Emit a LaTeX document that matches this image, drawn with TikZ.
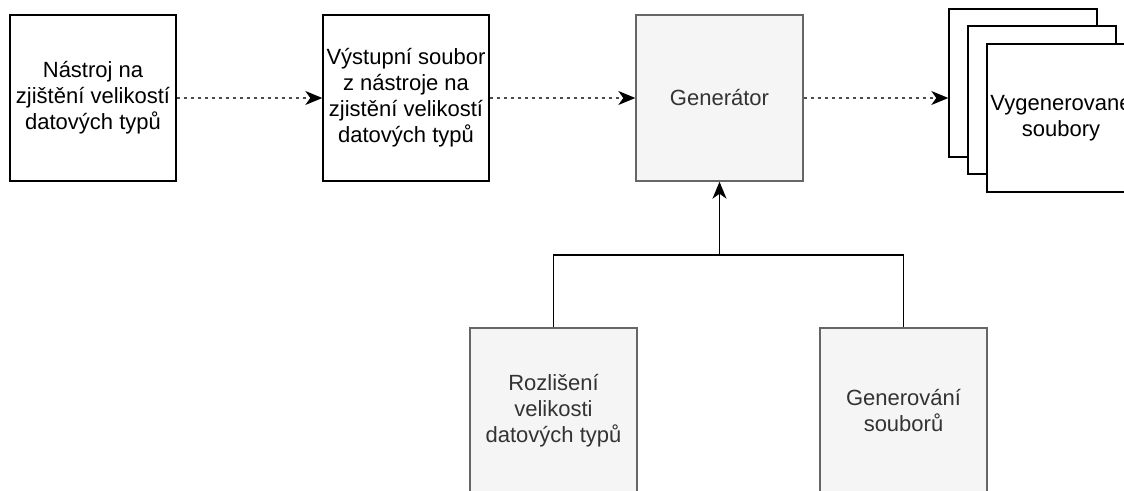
\documentclass[tikz,border=0pt]{standalone}
\usepackage{fontspec}
\setmainfont{Liberation Sans}
\usetikzlibrary{arrows.meta}
\definecolor{procfill}{HTML}{F5F5F5}
\definecolor{procline}{HTML}{666666}
\definecolor{proctext}{HTML}{333333}
\tikzset{
  plainbox/.style={draw=black, line width=1.4pt, fill=white, minimum width=166pt,
    minimum height=166pt, inner sep=0pt, align=center,
    font=\fontsize{22}{26}\selectfont},
  procbox/.style={plainbox, draw=procline, fill=procfill, text=proctext,
    minimum width=167pt},
  filebox/.style={plainbox, minimum width=148pt, minimum height=148pt},
  tip/.style={-{Stealth[length=17pt,width=14pt,inset=5pt,color=black]}},
  flow/.style={tip, line width=1.1pt, draw=black!70, dash pattern=on 3pt off 4pt},
  feed/.style={line width=1.4pt, draw=black}
}
\begin{document}
\begin{tikzpicture}[x=1pt,y=-1pt]
  \useasboundingbox (0,0) rectangle (1124,490);

  % first row: tool, its output, generator
  \node[plainbox] (tool) at (93,98) {Nástroj na\\zjištění velikostí\\datových typů};
  \node[plainbox] (out) at (406,98) {Výstupní soubor\\z nástroje na\\zjistění velikostí\\datových typů};
  \node[procbox] (gen) at (719.5,98) {Generátor};

  % stack of generated files
  \node[filebox] (fileA) at (1023,83) {};
  \node[filebox] (fileB) at (1042,100) {};
  \node[filebox] (fileC) at (1061,118) {Vygenerované\\soubory};

  % generator parts
  \node[procbox] (sizes) at (553.5,411) {Rozlišení\\velikosti\\datových typů};
  \node[procbox] (files) at (903.5,411) {Generování\\souborů};

  % data flow
  \draw[flow] (tool.east) -- (out.west);
  \draw[flow] (out.east) -- (gen.west);
  \draw[flow] (gen.east) -- (fileA.west |- gen.east);

  % parts feeding the generator
  \coordinate (join) at (719.5,255);
  \draw[feed] (sizes.north) |- (join) -| (files.north);
  \draw[feed, tip] (join) -- (gen.south);
\end{tikzpicture}
\end{document}
